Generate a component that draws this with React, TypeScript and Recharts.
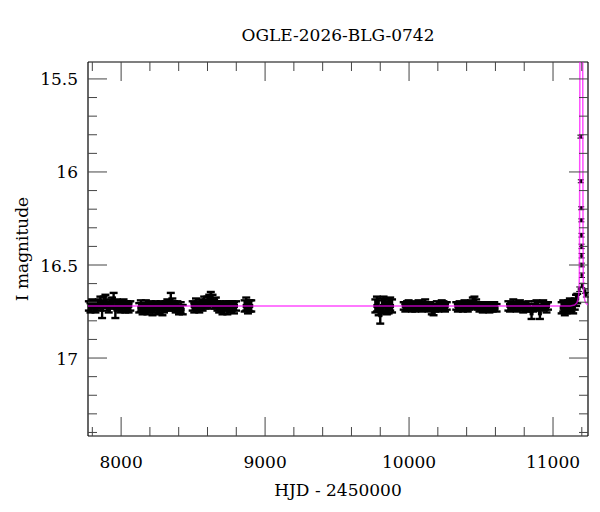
import React from 'react';
import { ScatterChart, Scatter, XAxis, YAxis, ErrorBar } from 'recharts';

const FONT = '"DejaVu Serif", serif';

// observations per season: [HJD - 2450000, I mag, error]
const season2017 = [
  [7776, 16.72, 0.025], [7787, 16.73, 0.025], [7799, 16.71, 0.025], [7810, 16.72, 0.03],
  [7822, 16.73, 0.025], [7833, 16.72, 0.025], [7845, 16.71, 0.025], [7856, 16.7, 0.03],
  [7868, 16.74, 0.045], [7879, 16.7, 0.03], [7891, 16.69, 0.03], [7902, 16.72, 0.025],
  [7914, 16.73, 0.025], [7925, 16.71, 0.025], [7937, 16.7, 0.025], [7948, 16.69, 0.04],
  [7960, 16.74, 0.045], [7971, 16.71, 0.025], [7983, 16.72, 0.025], [7994, 16.73, 0.025],
  [8006, 16.72, 0.03], [8017, 16.71, 0.025], [8029, 16.73, 0.025], [8040, 16.72, 0.025],
  [8052, 16.73, 0.025], [8064, 16.72, 0.025],
];
const season2018 = [
  [8126, 16.73, 0.025], [8137, 16.72, 0.03], [8149, 16.74, 0.025], [8160, 16.73, 0.025],
  [8172, 16.72, 0.03], [8183, 16.74, 0.025], [8195, 16.73, 0.025], [8206, 16.72, 0.025],
  [8218, 16.74, 0.03], [8229, 16.73, 0.025], [8241, 16.72, 0.025], [8252, 16.74, 0.025],
  [8264, 16.73, 0.03], [8275, 16.72, 0.025], [8287, 16.74, 0.03], [8298, 16.73, 0.025],
  [8310, 16.72, 0.025], [8321, 16.71, 0.025], [8333, 16.72, 0.025], [8345, 16.69, 0.04],
  [8356, 16.71, 0.03], [8368, 16.72, 0.025], [8379, 16.73, 0.025], [8391, 16.72, 0.025],
  [8402, 16.74, 0.025], [8414, 16.73, 0.03], [8428, 16.74, 0.025],
];
const season2019 = [
  [8497, 16.72, 0.025], [8508, 16.73, 0.025], [8520, 16.71, 0.03], [8531, 16.72, 0.025],
  [8543, 16.73, 0.025], [8554, 16.71, 0.025], [8566, 16.72, 0.025], [8577, 16.7, 0.03],
  [8589, 16.71, 0.025], [8600, 16.7, 0.03], [8612, 16.69, 0.03], [8623, 16.68, 0.035],
  [8635, 16.69, 0.03], [8646, 16.71, 0.025], [8658, 16.7, 0.025], [8669, 16.72, 0.025],
  [8681, 16.73, 0.025], [8692, 16.72, 0.025], [8704, 16.74, 0.025], [8715, 16.73, 0.03],
  [8727, 16.72, 0.025], [8738, 16.74, 0.025], [8750, 16.72, 0.025], [8761, 16.73, 0.025],
  [8773, 16.72, 0.025], [8784, 16.73, 0.03], [8798, 16.72, 0.025],
];
const season2020 = [
  [8858, 16.72, 0.03], [8869, 16.71, 0.035], [8881, 16.73, 0.03], [8893, 16.72, 0.03],
  [8904, 16.72, 0.03],
];
const season2022 = [
  [9766, 16.72, 0.035], [9777, 16.71, 0.04], [9789, 16.73, 0.04], [9800, 16.77, 0.045],
  [9812, 16.72, 0.04], [9823, 16.71, 0.04], [9835, 16.72, 0.035], [9846, 16.73, 0.035],
  [9858, 16.72, 0.04], [9869, 16.71, 0.035], [9882, 16.72, 0.035],
];
const season2023 = [
  [9963, 16.72, 0.02], [9974, 16.73, 0.02], [9986, 16.72, 0.025], [9997, 16.71, 0.02],
  [10009, 16.72, 0.02], [10020, 16.73, 0.02], [10032, 16.72, 0.025], [10043, 16.73, 0.02],
  [10055, 16.72, 0.02], [10066, 16.71, 0.02], [10078, 16.72, 0.025], [10089, 16.73, 0.02],
  [10101, 16.72, 0.02], [10112, 16.71, 0.025], [10124, 16.72, 0.02], [10135, 16.73, 0.02],
  [10147, 16.72, 0.02], [10158, 16.74, 0.025], [10170, 16.75, 0.02], [10181, 16.73, 0.02],
  [10193, 16.72, 0.025], [10204, 16.73, 0.02], [10216, 16.72, 0.02], [10227, 16.71, 0.02],
  [10239, 16.72, 0.025], [10250, 16.73, 0.02], [10262, 16.72, 0.02],
];
const season2024 = [
  [10328, 16.72, 0.02], [10339, 16.73, 0.02], [10351, 16.72, 0.025], [10362, 16.72, 0.02],
  [10374, 16.73, 0.02], [10385, 16.71, 0.02], [10397, 16.72, 0.025], [10408, 16.73, 0.02],
  [10420, 16.72, 0.02], [10431, 16.71, 0.02], [10443, 16.7, 0.025], [10454, 16.7, 0.03],
  [10466, 16.71, 0.025], [10477, 16.72, 0.02], [10489, 16.73, 0.02], [10500, 16.72, 0.02],
  [10512, 16.73, 0.025], [10523, 16.72, 0.02], [10535, 16.73, 0.02], [10546, 16.72, 0.02],
  [10558, 16.73, 0.025], [10569, 16.72, 0.02], [10581, 16.73, 0.02], [10592, 16.72, 0.02],
  [10608, 16.73, 0.02],
];
const season2025 = [
  [10690, 16.72, 0.025], [10701, 16.73, 0.02], [10713, 16.72, 0.02], [10724, 16.71, 0.025],
  [10736, 16.72, 0.02], [10747, 16.73, 0.02], [10759, 16.72, 0.025], [10770, 16.71, 0.02],
  [10782, 16.72, 0.02], [10793, 16.73, 0.025], [10805, 16.72, 0.02], [10816, 16.73, 0.02],
  [10828, 16.72, 0.025], [10839, 16.73, 0.02], [10851, 16.76, 0.03], [10862, 16.73, 0.02],
  [10874, 16.72, 0.025], [10885, 16.71, 0.02], [10897, 16.72, 0.02], [10909, 16.76, 0.03],
  [10920, 16.72, 0.025], [10932, 16.71, 0.02], [10943, 16.72, 0.02], [10955, 16.73, 0.025],
  [10965, 16.72, 0.02],
];
const season2026 = [
  [11060, 16.73, 0.03], [11071, 16.72, 0.03], [11082, 16.74, 0.03], [11094, 16.73, 0.03],
  [11105, 16.72, 0.03], [11117, 16.71, 0.03], [11128, 16.72, 0.03], [11140, 16.73, 0.03],
  [11151, 16.71, 0.03], [11160, 16.69, 0.03], [11168, 16.68, 0.025],
];
// points on the rising and falling part of the event
const eventPoints = [
  [11182, 16.63, 0.012], [11190, 15.81, 0.008], [11193, 16.05, 0.008], [11196, 16.195, 0.008],
  [11197, 16.26, 0.008], [11198, 16.34, 0.01], [11198.5, 16.4, 0.012], [11199, 16.45, 0.012],
  [11200, 16.5, 0.01], [11201, 16.555, 0.012], [11203, 16.61, 0.012], [11222, 16.64, 0.012],
  [11228, 16.66, 0.012],
];

// fitted model curve: [HJD - 2450000, I mag]
const modelCurve = [
  [7770, 16.72], [11120, 16.72], [11150, 16.715], [11165, 16.705], [11172, 16.69],
  [11178, 16.665], [11181, 16.63], [11183, 16.55], [11184.5, 16.3], [11185.5, 15.9],
  [11186.5, 15.5], [11188, 15.2], [11196, 14.6], [11205, 15.2], [11206.5, 15.5],
  [11207.5, 15.9], [11208.5, 16.3], [11210, 16.55], [11212, 16.63], [11215, 16.665],
  [11221, 16.69], [11228, 16.705], [11243, 16.715],
];

const xTicks = [7800, 8000, 8200, 8400, 8600, 8800, 9000, 9200, 9400, 9600, 9800, 10000,
  10200, 10400, 10600, 10800, 11000, 11200];
const yTicks = [15.5, 15.6, 15.7, 15.8, 15.9, 16, 16.1, 16.2, 16.3, 16.4, 16.5, 16.6, 16.7,
  16.8, 16.9, 17, 17.1, 17.2, 17.3, 17.4];

const X_DOMAIN = [7770, 11243];
const Y_DOMAIN = [15.409, 17.419];

const toPoint = ([hjd, mag, err]: number[]) => ({ hjd, mag, err });

const baseline = [
  ...season2017, ...season2018, ...season2019, ...season2020, ...season2022,
  ...season2023, ...season2024, ...season2025, ...season2026,
].map(toPoint);
const event = eventPoints.map(toPoint);
const model = modelCurve.map(([hjd, mag]) => ({ hjd, mag }));

const TICK = '#444';
const MAJOR = 19;
const MINOR = 9;

const isMajorX = (v: number) => v % 1000 === 0;
const isMajorY = (v: number) => Math.abs(v * 2 - Math.round(v * 2)) < 1e-6;

const xTick = (dir: number, label: boolean) => (props: any) => {
  const { x, y, payload } = props;
  const major = isMajorX(payload.value);
  return (
    <g>
      <line x1={x} x2={x} y1={y} y2={y + dir * (major ? MAJOR : MINOR)} stroke={TICK} />
      {label && major && (
        <text x={x} y={y + 32} textAnchor="middle" fontFamily={FONT} fontSize={17} fill="#000">
          {payload.value}
        </text>
      )}
    </g>
  );
};

const yTick = (dir: number, label: boolean) => (props: any) => {
  const { x, y, payload } = props;
  const major = isMajorY(payload.value);
  return (
    <g>
      <line x1={x} x2={x + dir * (major ? MAJOR : MINOR)} y1={y} y2={y} stroke={TICK} />
      {label && major && (
        <text x={x - 10} y={y + 6.5} textAnchor="end" fontFamily={FONT} fontSize={17} fill="#000">
          {String(payload.value)}
        </text>
      )}
    </g>
  );
};

const Dot = (props: any) => {
  const { cx, cy } = props;
  if (cx == null || cy == null) return <g />;
  return <rect x={cx - 2} y={cy - 2} width={4} height={4} fill="#000" />;
};

const SmallDot = (props: any) => {
  const { cx, cy } = props;
  if (cx == null || cy == null) return <g />;
  return <rect x={cx - 1.5} y={cy - 1.5} width={3} height={3} fill="#000" />;
};

const labelStyle = { fontFamily: FONT, fontSize: 17, fill: '#000' };

export default function App() {
  return (
    <ScatterChart width={592} height={496} margin={{ top: 0, right: 0, bottom: 0, left: 0 }}>
      <XAxis
        xAxisId="b"
        type="number"
        dataKey="hjd"
        orientation="bottom"
        height={68}
        domain={X_DOMAIN}
        ticks={xTicks}
        interval={0}
        allowDataOverflow
        tickSize={0}
        tickMargin={0}
        tickLine={false}
        axisLine={{ stroke: '#000', strokeWidth: 1.2 }}
        tick={xTick(-1, true)}
        label={{ value: 'HJD - 2450000', position: 'insideBottom', offset: 8, style: labelStyle }}
      />
      <XAxis
        xAxisId="t"
        type="number"
        dataKey="hjd"
        orientation="top"
        height={54}
        domain={X_DOMAIN}
        ticks={xTicks}
        interval={0}
        allowDataOverflow
        tickSize={0}
        tickMargin={0}
        tickLine={false}
        axisLine={{ stroke: '#000', strokeWidth: 1.2 }}
        tick={xTick(1, false)}
        label={{ value: 'OGLE-2026-BLG-0742', position: 'insideTop', offset: 21, style: labelStyle }}
      />
      <YAxis
        yAxisId="l"
        type="number"
        dataKey="mag"
        orientation="left"
        width={80}
        reversed
        domain={Y_DOMAIN}
        ticks={yTicks}
        interval={0}
        allowDataOverflow
        tickSize={0}
        tickMargin={0}
        tickLine={false}
        axisLine={{ stroke: '#000', strokeWidth: 1.2 }}
        tick={yTick(1, true)}
        label={{
          value: 'I magnitude',
          angle: -90,
          position: 'insideLeft',
          offset: 14,
          style: { ...labelStyle, textAnchor: 'middle' },
        }}
      />
      <YAxis
        yAxisId="r"
        type="number"
        dataKey="mag"
        orientation="right"
        width={12}
        reversed
        domain={Y_DOMAIN}
        ticks={yTicks}
        interval={0}
        allowDataOverflow
        tickSize={0}
        tickMargin={0}
        tickLine={false}
        axisLine={{ stroke: '#000', strokeWidth: 1.2 }}
        tick={yTick(-1, false)}
      />
      <Scatter
        data={baseline}
        xAxisId="b"
        yAxisId="l"
        shape={<Dot />}
        isAnimationActive={false}
      >
        <ErrorBar dataKey="err" direction="y" width={4} stroke="#000" strokeWidth={2.4} isAnimationActive={false} />
      </Scatter>
      <Scatter
        data={event}
        xAxisId="b"
        yAxisId="l"
        shape={<SmallDot />}
        isAnimationActive={false}
      >
        <ErrorBar dataKey="err" direction="y" width={3} stroke="#000" strokeWidth={1} isAnimationActive={false} />
      </Scatter>
      <Scatter
        data={model}
        xAxisId="t"
        yAxisId="r"
        line={{ stroke: '#ff00ff', strokeWidth: 1.5, strokeOpacity: 0.7 }}
        shape={() => <g />}
        isAnimationActive={false}
      />
    </ScatterChart>
  );
}
